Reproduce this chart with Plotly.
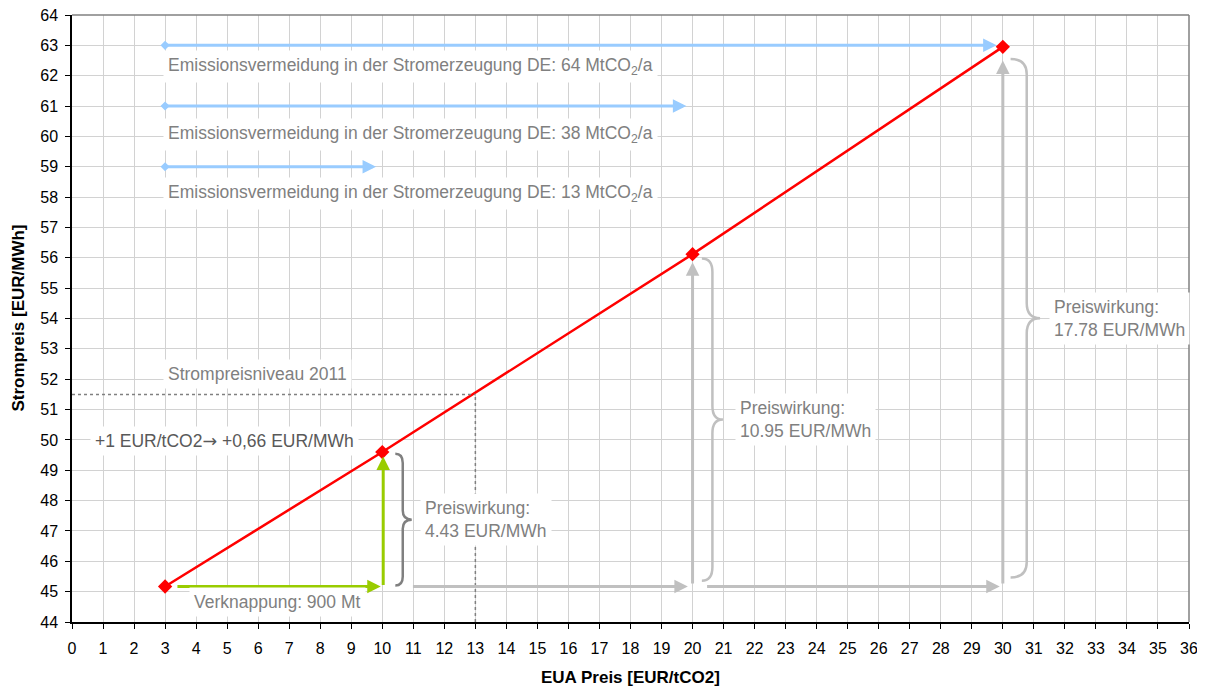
import plotly.graph_objects as go

# ---- data ----
eua_price = [3, 10, 20, 30]                 # EUR/tCO2
power_price = [45.17, 49.60, 56.12, 62.95]  # EUR/MWh
emission_avoid = [13, 38, 64]               # MtCO2/a
emission_level = [59, 61, 63]               # y-level of the blue arrows
scarcity_mt = 900
level_2011_price = 51.5
level_2011_eua = 13
x_ticks = list(range(0, 37))
y_ticks = list(range(44, 65))

# ---- style ----
FONT = "Liberation Sans, Arial, sans-serif"
RED = "#FF0000"
BLUE = "#99CCFF"
GREEN = "#99CC00"
LGRAY = "#C0C0C0"
DGRAY = "#808080"
TXT = "#808080"
ANN = 17.5

base = power_price[0]
effects = [round(p - base, 2) for p in power_price[1:]]

fig = go.Figure()

# main red line
fig.add_trace(go.Scatter(
    x=eua_price, y=power_price, mode="lines+markers",
    line=dict(color=RED, width=2.5),
    marker=dict(symbol="diamond", size=11, color=RED),
    showlegend=False, hoverinfo="skip"))

# blue start diamonds
fig.add_trace(go.Scatter(
    x=[eua_price[0]] * len(emission_level), y=emission_level, mode="markers",
    marker=dict(symbol="diamond", size=7, color=BLUE),
    showlegend=False, hoverinfo="skip"))

annotations = []
shapes = []


def arrow(x0, y0, x1, y1, color, width=3, size=0.9):
    annotations.append(dict(
        x=x1, y=y1, ax=x0, ay=y0, xref="x", yref="y", axref="x", ayref="y",
        text="", showarrow=True, arrowhead=2, arrowsize=size,
        arrowwidth=width, arrowcolor=color))


def label(x, y, text, color=TXT, size=ANN):
    annotations.append(dict(
        x=x, y=y, xref="x", yref="y", text=text, showarrow=False,
        xanchor="left", yanchor="middle", align="left",
        font=dict(family=FONT, size=size, color=color),
        bgcolor="white", borderpad=4))


# blue emission arrows and labels
ends = eua_price[1:]
for lvl, xe in zip(emission_level, ends):
    arrow(eua_price[0], lvl, xe - 0.2, lvl, BLUE)
text_y = [58.13, 60.05, 62.3]
for ty, em in zip(text_y, emission_avoid):
    label(2.93, ty, f"Emissionsvermeidung in der Stromerzeugung DE: {em} MtCO<sub>2</sub>/a")

# green arrows (first step)
arrow(eua_price[0] + 0.35, base, eua_price[1] - 0.05, base, GREEN)
arrow(eua_price[1] + 0.03, base, eua_price[1] + 0.03, power_price[1] - 0.15, GREEN)

# gray arrows (later steps)
arrow(eua_price[1] + 0.94, base, eua_price[2] - 0.15, base, LGRAY)
arrow(eua_price[2], base + 0.05, eua_price[2], power_price[2] - 0.27, LGRAY)
arrow(eua_price[2] + 0.42, base, eua_price[3] - 0.1, base, LGRAY)
arrow(eua_price[3], base + 0.05, eua_price[3], power_price[3] - 0.45, LGRAY)

# braces
brace_geom = [  # (x-offset ends, x-offset spine, x-offset tip, top gap, bottom gap, r)
    (0.42, 0.66, 0.95, 0.06, 0.03, 0.3),
    (0.30, 0.64, 0.98, 0.14, 0.19, 0.45),
    (0.25, 0.77, 1.20, 0.40, 0.30, 0.5),
]
brace_col = [DGRAY, LGRAY, LGRAY]
for xp, yp, g, col in zip(eua_price[1:], power_price[1:], brace_geom, brace_col):
    xl, xm, xt = xp + g[0], xp + g[1], xp + g[2]
    yt, yb = yp - g[3], base + g[4]
    ym = (yt + yb) / 2
    r = g[5]
    path = (f"M{xl},{yt} Q{xm},{yt} {xm},{yt - r} L{xm},{ym + r} "
            f"Q{xm},{ym} {xt},{ym} Q{xm},{ym} {xm},{ym - r} "
            f"L{xm},{yb + r} Q{xm},{yb} {xl},{yb}")
    shapes.append(dict(type="path", path=path, xref="x", yref="y",
                       line=dict(color=col, width=2.5)))

# effect labels
eff_pos = [(11.2, 47.37), (21.38, 50.66), (31.48, 54.01)]
for (lx, ly), e in zip(eff_pos, effects):
    label(lx, ly, f"Preiswirkung:<br>{e:.2f} EUR/MWh")

# 2011 level dotted lines
shapes.append(dict(type="line", xref="x", yref="y", x0=0, x1=level_2011_eua,
                   y0=level_2011_price, y1=level_2011_price,
                   line=dict(color=DGRAY, width=1.5, dash="dot")))
shapes.append(dict(type="line", xref="x", yref="y", x0=level_2011_eua, x1=level_2011_eua,
                   y0=44, y1=level_2011_price,
                   line=dict(color=DGRAY, width=1.5, dash="dot")))
label(2.93, 52.18, "Strompreisniveau 2011")
label(0.57, 49.98,
      "+1 EUR/tCO2<span style=\"font-family:DejaVu Sans\">→</span> +0,66 EUR/MWh",
      color="#595959")
label(3.77, 44.65, f"Verknappung: {scarcity_mt} Mt")

# top / right border
shapes.append(dict(type="line", xref="paper", yref="paper", x0=0, x1=1, y0=1, y1=1,
                   line=dict(color=DGRAY, width=1.5)))
shapes.append(dict(type="line", xref="paper", yref="paper", x0=1, x1=1, y0=0, y1=1,
                   line=dict(color=DGRAY, width=1.5)))

# axis titles
annotations.append(dict(x=0.5, y=0, xref="paper", yref="paper", yanchor="top",
                        yshift=-44, showarrow=False, text="<b>EUA Preis [EUR/tCO2]</b>",
                        font=dict(family=FONT, size=17, color="black")))
annotations.append(dict(x=0, y=0.5, xref="paper", yref="paper", xanchor="center",
                        xshift=-54, showarrow=False, textangle=-90,
                        text="<b>Strompreis [EUR/MWh]</b>",
                        font=dict(family=FONT, size=17, color="black")))

axis_common = dict(showgrid=True, gridcolor="#D2D2D2", gridwidth=1, zeroline=False,
                   showline=True, linecolor="black", linewidth=1.5, automargin=False,
                   ticks="outside", ticklen=5, tickcolor="black",
                   ticklabeloverflow="allow",
                   tickfont=dict(family=FONT, size=16, color="black"))

# page body has an 8px default margin -> compensate in figure size / margins
fig.update_layout(
    width=1197, height=680,
    margin=dict(l=64, r=16, t=7, b=66),
    paper_bgcolor="white", plot_bgcolor="white",
    xaxis=dict(range=[0, 36], tickvals=x_ticks, ticklabelstandoff=6, **axis_common),
    yaxis=dict(range=[44, 64], tickvals=y_ticks, ticklabelstandoff=4, **axis_common),
    annotations=annotations, shapes=shapes, showlegend=False,
)

fig.write_html("out.html")
